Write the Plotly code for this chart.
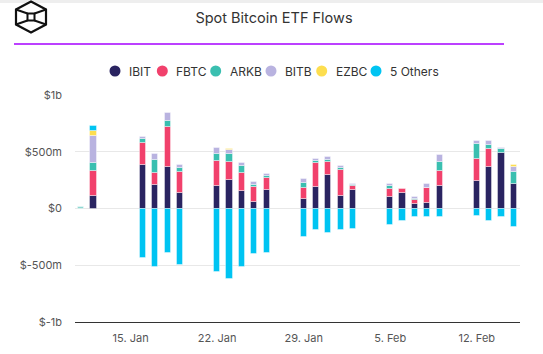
import plotly.graph_objects as go

# ---- data (USD millions) ----
dates = ["2024-01-11", "2024-01-12", "2024-01-16", "2024-01-17", "2024-01-18", "2024-01-19",
         "2024-01-22", "2024-01-23", "2024-01-24", "2024-01-25", "2024-01-26",
         "2024-01-29", "2024-01-30", "2024-01-31", "2024-02-01", "2024-02-02",
         "2024-02-05", "2024-02-06", "2024-02-07", "2024-02-08", "2024-02-09",
         "2024-02-12", "2024-02-13", "2024-02-14", "2024-02-15"]
ibit = [None, 108, 385, 209, 367, 135, 198, 253, 156, 59, 165, 85, 191, 297, 108, 161,
        103, 135, 41, 50, 197, 241, 364, 491, 218]
fbtc = [None, 224, 194, 106, 353, 188, 222, 155, 158, 132, 102, 97, 211, 114, 230, 36,
        73, 38, 32, 129, 132, 197, 162, None, None]
arkb = [15, 71, 35, 111, 49, 32, 58, 71, 59, 18, 18, 44, 15, 15, 17, 8,
        18, None, 12, 3, 82, 132, 35, 35, 102]
bitb = [None, 234, 18, 56, 74, 30, 56, 35, 29, 26, 23, 36, 21, 29, 21, 15,
        24, None, 18, 30, 62, 26, 35, 11, 44]
ezbc = [None, 44, None, None, None, None, None, 12, None, None, None, None, None, None, None, None,
        None, None, None, None, None, None, None, None, 15]
others = [None, 44, -434, -514, -390, -502, -558, -620, -514, -399, -390, -249, -188, -214, -185, -179,
          -144, -106, -73, -73, -73, -64, -106, -73, -161]

series_names = ["IBIT", "FBTC", "ARKB", "BITB", "EZBC", "5 Others"]
series_values = [ibit, fbtc, arkb, bitb, ezbc, others]
colors = ["#2a2461", "#f1416c", "#3abfb0", "#b9b3e0", "#fdde4f", "#00c4f2"]

ytick_vals = [-1000, -500, 0, 500, 1000]
ytick_text = ["$-1b", "$-500m", "$0", "$500m", "$1b"]
xtick_vals = ["2024-01-15", "2024-01-22", "2024-01-29", "2024-02-05", "2024-02-12"]
xtick_text = ["15. Jan", "22. Jan", "29. Jan", "5. Feb", "12. Feb"]

W, H = 543, 354
L, R, T, B = 75, 23, 95, 32
PW, PH = W - L - R, H - T - B


def px(x):
    return (x - L) / PW


def py(y):
    return (H - B - y) / PH


fig = go.Figure()
for name, vals, col in zip(series_names, series_values, colors):
    mcol = col
    if name == "ARKB":
        mcol = ["#8fd8d2" if i == 0 else col for i in range(len(vals))]
    fig.add_trace(go.Bar(
        x=dates, y=vals, name=name,
        marker=dict(color=mcol, line=dict(color="rgba(255,255,255,0.4)", width=1)),
        width=43200000,
        hovertemplate="%{x|%d %b}: $%{y}m<extra>" + name + "</extra>",
    ))

shapes = []
annotations = []
# purple header line
shapes.append(dict(type="line", xref="paper", yref="paper",
                   x0=px(14), x1=px(504), y0=py(44), y1=py(44),
                   line=dict(color="#a600ff", width=1.5)))
# subtle top band
shapes.append(dict(type="rect", xref="paper", yref="paper",
                   x0=px(0), x1=px(543), y0=py(0), y1=py(3),
                   line=dict(width=0), fillcolor="#eeeeee", layer="below"))
# logo
hexpts = [(31, 1.5), (46, 9.5), (46, 24.5), (31, 32.5), (16, 24.5), (16, 9.5)]
path = "M " + " L ".join(f"{px(a):.5f},{py(b):.5f}" for a, b in hexpts) + " Z"
shapes.append(dict(type="path", xref="paper", yref="paper", path=path,
                   line=dict(color="#111111", width=2.2)))
sq = [(27.5, 13.5), (34.5, 13.5), (34.5, 20.5), (27.5, 20.5)]
path = "M " + " L ".join(f"{px(a):.5f},{py(b):.5f}" for a, b in sq) + " Z"
shapes.append(dict(type="path", xref="paper", yref="paper", path=path,
                   line=dict(color="#111111", width=2)))
for (a, b), (c, d) in [((16, 9.5), (27.5, 13.5)), ((46, 9.5), (34.5, 13.5)),
                       ((16, 24.5), (27.5, 20.5)), ((46, 24.5), (34.5, 20.5))]:
    shapes.append(dict(type="line", xref="paper", yref="paper",
                       x0=px(a), y0=py(b), x1=px(c), y1=py(d),
                       line=dict(color="#111111", width=2)))

# manual legend (circle markers + text)
legend_x = [115, 162.3, 215.7, 271, 321.7, 376]
legend_y = 71
for name, col, lx in zip(series_names, colors, legend_x):
    shapes.append(dict(type="circle", xref="paper", yref="paper",
                       x0=px(lx - 5.5), x1=px(lx + 5.5), y0=py(legend_y + 5.5), y1=py(legend_y - 5.5),
                       fillcolor=col, line=dict(width=0)))
    annotations.append(dict(text=name, xref="paper", yref="paper", x=px(lx + 12), y=py(legend_y),
                            xanchor="left", yanchor="middle", showarrow=False,
                            font=dict(size=12, color="#333333")))

fig.update_layout(
    width=W, height=H,
    margin=dict(l=L, r=R, t=T, b=B, pad=0, autoexpand=False),
    paper_bgcolor="white", plot_bgcolor="white",
    barmode="relative", bargap=0, showlegend=False,
    font=dict(family="Inter, Roboto, sans-serif", size=11, color="#555555"),
    title=dict(text="Spot Bitcoin ETF Flows", xref="container", yref="container",
               x=274 / W, y=1 - 18 / H, xanchor="center", yanchor="middle",
               font=dict(size=14.5, color="#333333", family="Inter, Roboto, sans-serif")),
    xaxis=dict(type="date", range=["2024-01-10 12:00", "2024-02-15 12:00"],
               tickvals=xtick_vals, ticktext=xtick_text, showgrid=False,
               showline=True, linecolor="#333333", linewidth=1, ticks="",
               tickfont=dict(size=11, color="#555555"), ticklabelstandoff=6,
               zeroline=False, fixedrange=True),
    yaxis=dict(range=[-1000, 1000], tickvals=ytick_vals, ticktext=ytick_text,
               showgrid=True, gridcolor="#e8e8e8", gridwidth=1, zeroline=False,
               showline=False, ticks="", ticklabelstandoff=12,
               tickfont=dict(size=11, color="#555555"), fixedrange=True),
    shapes=shapes,
    annotations=annotations,
)

fig.write_html("out.html")
